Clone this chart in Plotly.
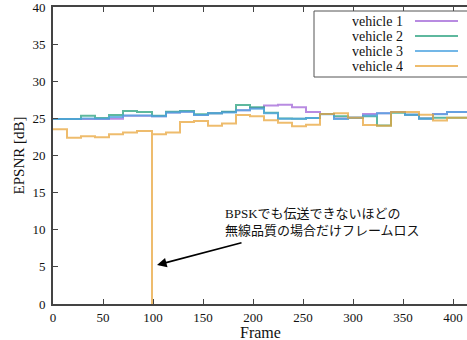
import plotly.graph_objects as go

# segment edges (frames)
frame_edges = [0, 14, 28, 42, 56, 70, 84, 99, 113, 127, 141, 155, 169, 183, 197, 211,
               225, 239, 253, 267, 281, 295, 310, 324, 338, 352, 366, 380, 394, 408, 422]

vehicle1 = [24.9, 24.9, 24.9, 24.9, 24.95, 25.35, 25.35, 25.3, 25.8, 25.9, 25.45, 25.7, 25.85, 26.1, 26.4,
            26.75, 26.85, 26.5, 25.85, 25.6, 25.0, 25.1, 25.6, 25.7, 25.85, 25.5, 25.0, 25.6, 25.85, 25.85]
vehicle2 = [24.9, 24.9, 25.35, 25.05, 25.45, 26.0, 25.85, 25.35, 25.9, 26.0, 25.55, 25.7, 25.9, 26.8, 26.5,
            25.75, 25.0, 24.95, 25.05, 25.6, 25.3, 25.1, 25.3, 24.05, 25.75, 25.5, 25.0, 25.1, 25.1, 25.1]
vehicle3 = [24.9, 24.9, 25.0, 24.95, 25.2, 25.4, 25.4, 25.3, 25.8, 25.9, 25.45, 25.7, 25.8, 26.1, 26.3,
            25.7, 24.95, 24.95, 25.05, 25.55, 24.9, 25.1, 25.4, 25.7, 25.85, 25.5, 24.95, 25.55, 25.85, 25.85]
vehicle4 = [23.55, 22.4, 22.6, 22.45, 22.85, 23.1, 23.3, 22.85, 23.1, 24.5, 24.65, 24.0, 24.3, 25.45, 25.3,
            24.75, 24.4, 23.95, 24.15, 25.6, 25.7, 25.1, 24.1, 24.0, 25.85, 25.85, 25.5, 24.7, 25.1, 25.1]

loss_segment = 7          # frame loss happens at the start of this segment
loss_value = 0

names = ["vehicle 1", "vehicle 2", "vehicle 3", "vehicle 4"]
colors = ["rgba(160,100,215,0.75)", "rgba(40,160,125,0.75)", "rgba(80,165,225,0.8)", "rgba(232,165,60,0.75)"]

font_serif = "Liberation Serif, Times New Roman, serif"

fig = go.Figure()
series = [vehicle1, vehicle2, vehicle3, vehicle4]
for i, vals in enumerate(series):
    xs = list(frame_edges)
    ys = list(vals) + [vals[-1]]
    if i == 3:
        xs = xs[:loss_segment] + [frame_edges[loss_segment]] + xs[loss_segment:]
        ys = ys[:loss_segment] + [loss_value] + ys[loss_segment:]
    fig.add_trace(go.Scatter(x=xs, y=ys, mode="lines", name=names[i],
                             line=dict(color=colors[i], width=2, shape="hv"),
                             showlegend=False))

# gnuplot-style key (text then line sample)
shapes = [dict(type="rect", xref="paper", yref="paper", x0=(314 - 53) / 414, x1=1.02,
               y0=1 - (77 - 7) / 297, y1=1 - (11 - 7) / 297,
               line=dict(color="#555", width=1), fillcolor="white", layer="above")]
annotations = []
for i, n in enumerate(names):
    ypx = 21 + 15 * i
    yp = 1 - (ypx - 7) / 297
    annotations.append(dict(xref="paper", yref="paper", x=(404 - 53) / 414, y=yp,
                            text=n, showarrow=False, xanchor="right", yanchor="middle",
                            height=14, borderpad=0,
                            font=dict(family=font_serif, size=14, color="#111")))
    shapes.append(dict(type="line", xref="paper", yref="paper",
                       x0=(415 - 53) / 414, x1=(458 - 53) / 414, y0=yp, y1=yp,
                       line=dict(color=colors[i], width=2), layer="above"))

annotations.append(dict(x=104, y=5.25, ax=190, ay=8.3, xref="x", yref="y", axref="x", ayref="y",
                        text="", showarrow=True, arrowhead=2, arrowsize=1.2, arrowwidth=1.6,
                        arrowcolor="#000"))
annotations.append(dict(x=170, y=11.1, xref="x", yref="y",
                        text="BPSKでも伝送できないほどの<br>無線品質の場合だけフレームロス",
                        showarrow=False, xanchor="left", yanchor="middle", align="left",
                        font=dict(family="Liberation Serif, Noto Sans CJK JP", size=13, color="#111")))
annotations.append(dict(xref="paper", yref="paper", x=0.5, y=-(332 - 304) / 297,
                        text="Frame", showarrow=False, xanchor="center", yanchor="middle",
                        height=15,
                        font=dict(family=font_serif, size=16, color="#111")))

fig.update_layout(
    width=467, height=340,
    margin=dict(l=53, r=0, t=7, b=36),
    paper_bgcolor="white", plot_bgcolor="white",
    shapes=shapes, annotations=annotations,
    font=dict(family=font_serif, size=13, color="#111"),
)
fig.update_xaxes(range=[0, 414], tickvals=[0, 50, 100, 150, 200, 250, 300, 350, 400],
                 ticks="inside", ticklen=5, tickcolor="#444", mirror="ticks",
                 showline=True, linecolor="#444", linewidth=2, showgrid=False, zeroline=False,
                 ticklabeloverflow="allow",
                 tickfont=dict(family=font_serif, size=13))
fig.update_yaxes(range=[0, 40], tickvals=[0, 5, 10, 15, 20, 25, 30, 35, 40],
                 ticks="inside", ticklen=5, tickcolor="#444",
                 showline=True, linecolor="#444", linewidth=2, showgrid=False, zeroline=False,
                 ticklabeloverflow="allow", ticklabelstandoff=3,
                 title=dict(text="EPSNR [dB]", font=dict(family=font_serif, size=15), standoff=4),
                 tickfont=dict(family=font_serif, size=13))

fig.write_html("out.html")
